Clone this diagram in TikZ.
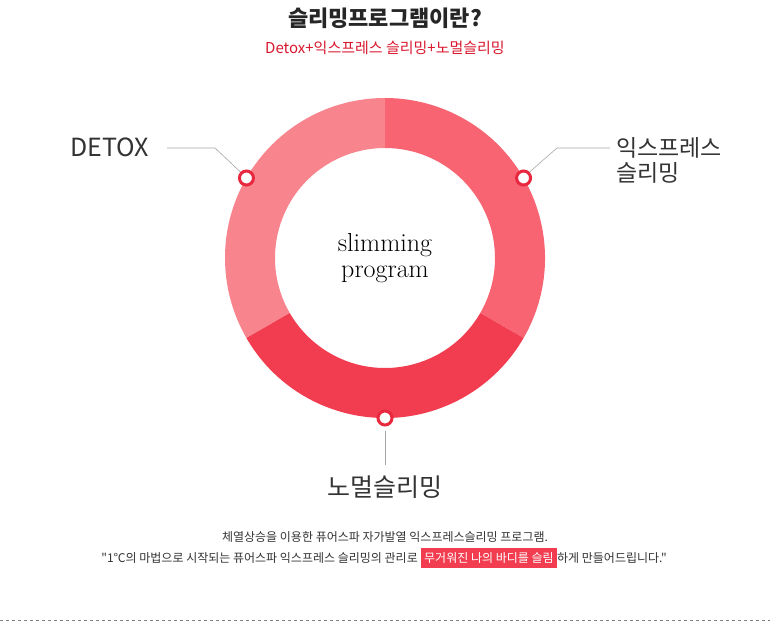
\documentclass[tikz,border=0pt]{standalone}
\usepackage{fontspec}
\newfontfamily\kr{Noto Sans CJK KR}
\definecolor{segL}{HTML}{F8848E}
\definecolor{segR}{HTML}{F96472}
\definecolor{segB}{HTML}{F23D50}
\definecolor{ringc}{HTML}{E8283F}
\definecolor{titred}{HTML}{D9172E}
\definecolor{txt}{HTML}{333333}
\tikzset{marker/.style={circle,draw=ringc,line width=3pt,fill=white,minimum size=14pt,inner sep=0pt},
lead/.style={draw=gray!70,line width=0.6pt},
lbl/.style={font=\kr\fontsize{25}{28}\selectfont,text=txt,inner sep=0pt}}
\begin{document}
\begin{tikzpicture}[x=1pt,y=1pt]
\useasboundingbox[fill=white] (0,0) rectangle (770,625);
\node[font=\kr\bfseries\fontsize{22}{24}\selectfont,text=black!85] (title) at (385,607) {슬리밍프로그램이란?};
\node[font=\kr\fontsize{15}{17}\selectfont,text=titred] (sub) at (385,577) {Detox+익스프레스 슬리밍+노멀슬리밍};
\begin{scope}[shift={(385,367)}]
\fill[segL] (90:160) arc[start angle=90,end angle=210,radius=160] -- (210:110) arc[start angle=210,end angle=90,radius=110] -- cycle;
\fill[segR] (-30:160) arc[start angle=-30,end angle=90,radius=160] -- (90:110) arc[start angle=90,end angle=-30,radius=110] -- cycle;
\fill[segB] (210:160) arc[start angle=210,end angle=330,radius=160] -- (330:110) arc[start angle=330,end angle=210,radius=110] -- cycle;
\node[marker] (mL) at (150:160) {};
\node[marker] (mR) at (30:160) {};
\node[marker] (mB) at (270:160) {};
\node[align=center,font=\fontsize{26}{26}\selectfont,inner sep=0pt] (center) at (0,0) {slimming\\program};
\end{scope}
\node[lbl,anchor=east] (detox) at (149,478) {DETOX};
\node[lbl,anchor=west,align=left,font=\kr\fontsize{23}{25}\selectfont] (express) at (616,465) {익스프레스\\슬리밍};
\node[lbl] (normal) at (385,138) {노멀슬리밍};
\coordinate (kL) at (215,477);
\coordinate (kR) at (557,477);
\coordinate (eL) at (167,477);
\coordinate (eR) at (610,477);
\coordinate (tB) at (385,160);
\draw[lead] (mL.north west) -- (kL) -- (eL);
\draw[lead] (mR.north east) -- (kR) -- (eR);
\draw[lead] ([yshift=-4pt]mB.south) -- (tB);
\node[font=\kr\fontsize{12}{14}\selectfont,text=txt] (line1) at (385,88) {체열상승을 이용한 퓨어스파 자가발열 익스프레스슬리밍 프로그램.};
\node[font=\kr\fontsize{12}{14}\selectfont,text=txt,anchor=east,inner sep=0pt] (line2a) at (418,67) {"1℃의 마법으로 시작되는 퓨어스파 익스프레스 슬리밍의 관리로};
\node[font=\kr\fontsize{12}{14}\selectfont,text=white,fill=segB,anchor=west,inner sep=3pt,minimum height=20pt] (hl) at (421,67) {무거워진 나의 바디를 슬림};
\node[font=\kr\fontsize{12}{14}\selectfont,text=txt,anchor=west,inner sep=0pt] (line2b) at (hl.east) {하게 만들어드립니다."};
\draw[gray,dashed,line width=0.6pt] (0,5) -- (770,5);
\end{tikzpicture}
\end{document}
